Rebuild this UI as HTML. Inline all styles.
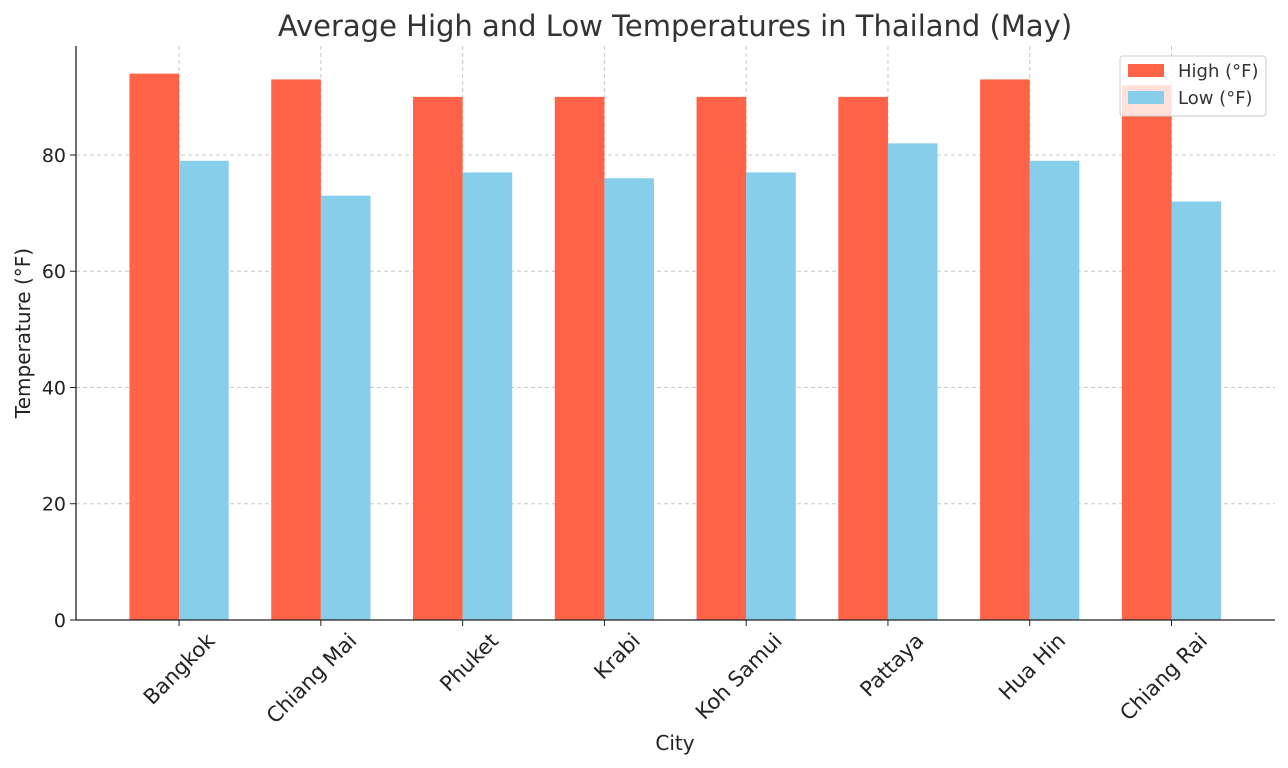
<!DOCTYPE html>
<html><head><meta charset="utf-8"><style>
body{margin:0;background:#fff;}
svg{display:block;font-family:"DejaVu Sans","Liberation Sans",sans-serif;}
</style></head><body>
<svg id="chart" width="1288" height="768" viewBox="0 0 1288 768">
<text x="675" y="36" text-anchor="middle" font-size="29" fill="#333">Average High and Low Temperatures in Thailand (May)</text>
<g id="grid"></g>
<g id="bars"></g>
<g id="axes"></g>
<text x="675" y="750" text-anchor="middle" font-size="20" fill="#222">City</text>
<text transform="translate(30,333) rotate(-90)" text-anchor="middle" font-size="20" fill="#222">Temperature (°F)</text>
<g>
<rect x="1120" y="56" width="146" height="60" rx="3" fill="#fff" fill-opacity="0.8" stroke="#ccc"/>
<g><rect x="1128" y="64" width="36" height="13" fill="#ff6347"/><text x="1178" y="77" font-size="18" fill="#333">High (°F)</text></g>
<g><rect x="1128" y="91" width="36" height="13" fill="#87ceeb"/><text x="1178" y="104" font-size="18" fill="#333">Low (°F)</text></g>
</g>
</svg>
<script>
const categories=["Bangkok","Chiang Mai","Phuket","Krabi","Koh Samui","Pattaya","Hua Hin","Chiang Rai"];
const highValues=[94,93,90,90,90,90,93,92];
const lowValues=[79,73,77,76,77,82,79,72];
const yTicks=[0,20,40,60,80];
const NS="http://www.w3.org/2000/svg";
const L=76,R=1275,T=46,B=620,XMIN=-0.727,XMAX=7.73,YMAX=98.75;
const xs=v=>L+(v-XMIN)/(XMAX-XMIN)*(R-L);
const ys=v=>B-v/YMAX*(B-T);
function mk(tag,attrs,parent){const e=document.createElementNS(NS,tag);for(const k in attrs)e.setAttribute(k,attrs[k]);parent.appendChild(e);return e;}
const grid=document.getElementById('grid'),bars=document.getElementById('bars'),axes=document.getElementById('axes');
yTicks.forEach(t=>{
 const y=ys(t);
 if(t>0){const g=mk('line',{x1:L,x2:R,y1:y,y2:y,stroke:'#c8c8c8','stroke-dasharray':'4,3'},grid);
 
 }
 mk('line',{x1:L-6,x2:L,y1:y,y2:y,stroke:'#222'},axes);
 const tx=mk('text',{x:L-10,y:y+7,'text-anchor':'end','font-size':19,fill:'#222'},axes);tx.textContent=t;
 
 
});
const bw=0.35;
categories.forEach((c,i)=>{
 const x=xs(i);
 const g=mk('line',{x1:x,x2:x,y1:T,y2:B,stroke:'#c8c8c8','stroke-dasharray':'4,3'},grid);
 
 
 const h=mk('rect',{x:xs(i-bw),y:ys(highValues[i]),width:xs(i)-xs(i-bw),height:B-ys(highValues[i]),fill:'#ff6347'},bars);
 
 
 const l=mk('rect',{x:xs(i),y:ys(lowValues[i]),width:xs(i+bw)-xs(i),height:B-ys(lowValues[i]),fill:'#87ceeb'},bars);
 
 
 mk('line',{x1:x,x2:x,y1:B,y2:B+6,stroke:'#222'},axes);
 const tx=mk('text',{x:0,y:0,'text-anchor':'end','font-size':21,fill:'#222',transform:`translate(${x+37},${B+22}) rotate(-45)`},axes);
 tx.textContent=c;
 
 
});
mk('line',{x1:L,x2:L,y1:T,y2:B,stroke:'#222','stroke-width':1.3},axes);
mk('line',{x1:L,x2:R,y1:B,y2:B,stroke:'#222','stroke-width':1.3},axes);
</script>
</body></html>
